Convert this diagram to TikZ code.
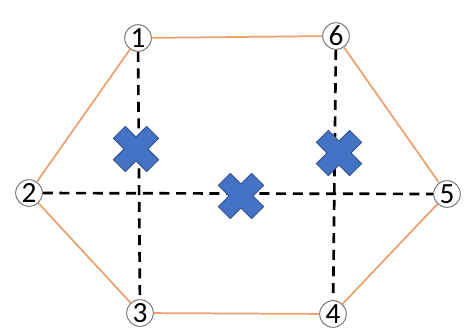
\documentclass[tikz,border=0pt]{standalone}
\usepackage{fontspec}
\setmainfont{Carlito}
\definecolor{edgeorange}{RGB}{236,160,110}
\definecolor{xblue}{RGB}{68,114,196}
\definecolor{xborder}{RGB}{47,82,143}
\begin{document}
\begin{tikzpicture}[x=0.75pt,y=-0.75pt,
  num/.style={circle,draw=gray!90!black,line width=0.7pt,fill=white,inner sep=0pt,minimum size=20pt,font=\fontsize{22}{22}\selectfont},
  hexedge/.style={draw=edgeorange,line width=1.3pt},
  dline/.style={draw=black,line width=2pt,dash pattern=on 7.5pt off 5pt},
  xmark/.pic={\filldraw[fill=xblue,draw=xborder,line width=0.6pt,rotate=45]
    (-8.5,-23.5) -- (8.5,-23.5) -- (8.5,-8.5) -- (23.5,-8.5) -- (23.5,8.5) -- (8.5,8.5) -- (8.5,23.5) -- (-8.5,23.5) -- (-8.5,8.5) -- (-23.5,8.5) -- (-23.5,-8.5) -- (-8.5,-8.5) -- cycle;}]
\useasboundingbox (0,0) rectangle (465,333);
\node[num] (n1) at (138,38) {1};
\node[num] (n6) at (336,36) {6};
\node[num] (n2) at (29,193) {2};
\node[num] (n5) at (447,194) {5};
\node[num] (n3) at (140,313) {3};
\node[num] (n4) at (333,314) {4};
\path[hexedge] (n1) -- (n6);
\path[hexedge] (n6) -- (n5);
\path[hexedge] (n5) -- (n4);
\path[hexedge] (n4) -- (n3);
\path[hexedge] (n3) -- (n2);
\path[hexedge] (n2) -- (n1);
\path[dline] (n1) -- (n3);
\path[dline] (n6) -- (n4);
\path[dline] (n2) -- (n5);
\pic at (136,149) {xmark};
\pic at (241,196) {xmark};
\pic at (339,153) {xmark};
\end{tikzpicture}
\end{document}
